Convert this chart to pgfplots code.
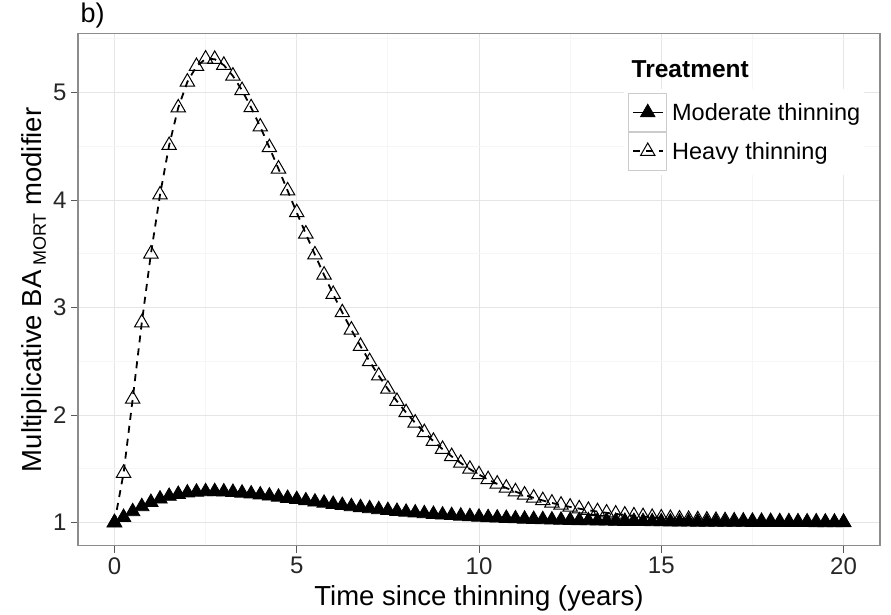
\documentclass[border=0pt]{standalone}
\usepackage{pgfplots}
\pgfplotsset{compat=1.18}
\usepackage{fontspec}
\setmainfont{Liberation Sans}
\definecolor{majgrid}{gray}{0.90}
\definecolor{mingrid}{gray}{0.965}
\definecolor{panelborder}{gray}{0.55}
\definecolor{keyborder}{gray}{0.80}
\pgfplotstableread{
t y
0 1.000
0.25 1.050
0.5 1.103
0.75 1.150
1.0 1.189
1.25 1.221
1.5 1.246
1.75 1.264
2.0 1.277
2.25 1.285
2.5 1.289
2.75 1.290
3.0 1.287
3.25 1.283
3.5 1.276
3.75 1.268
4.0 1.259
4.25 1.249
4.5 1.238
4.75 1.227
5.0 1.216
5.25 1.204
5.5 1.193
5.75 1.182
6.0 1.171
6.25 1.161
6.5 1.150
6.75 1.141
7.0 1.131
7.25 1.122
7.5 1.114
7.75 1.106
8.0 1.098
8.25 1.091
8.5 1.084
8.75 1.078
9.0 1.072
9.25 1.067
9.5 1.062
9.75 1.057
10.0 1.052
10.25 1.048
10.5 1.044
10.75 1.041
11.0 1.037
11.25 1.034
11.5 1.031
11.75 1.029
12.0 1.026
12.25 1.024
12.5 1.022
12.75 1.020
13.0 1.019
13.25 1.017
13.5 1.016
13.75 1.014
14.0 1.013
14.25 1.012
14.5 1.011
14.75 1.010
15.0 1.009
15.25 1.008
15.5 1.007
15.75 1.007
16.0 1.006
16.25 1.005
16.5 1.005
16.75 1.004
17.0 1.004
17.25 1.004
17.5 1.003
17.75 1.003
18.0 1.003
18.25 1.002
18.5 1.002
18.75 1.002
19.0 1.002
19.25 1.001
19.5 1.001
19.75 1.001
20.0 1.001
}\moderate
\pgfplotstableread{
t y
0 1.000
0.25 1.460
0.5 2.150
0.75 2.860
1.0 3.500
1.25 4.050
1.5 4.510
1.75 4.860
2.0 5.100
2.25 5.245
2.5 5.314
2.75 5.311
3.0 5.256
3.25 5.155
3.5 5.021
3.75 4.861
4.0 4.682
4.25 4.490
4.5 4.291
4.75 4.088
5.0 3.885
5.25 3.686
5.5 3.492
5.75 3.304
6.0 3.125
6.25 2.954
6.5 2.793
6.75 2.641
7.0 2.499
7.25 2.366
7.5 2.243
7.75 2.129
8.0 2.024
8.25 1.928
8.5 1.839
8.75 1.758
9.0 1.683
9.25 1.616
9.5 1.554
9.75 1.498
10.0 1.447
10.25 1.401
10.5 1.360
10.75 1.322
11.0 1.288
11.25 1.258
11.5 1.230
11.75 1.206
12.0 1.183
12.25 1.164
12.5 1.146
12.75 1.130
13.0 1.115
13.25 1.103
13.5 1.091
13.75 1.081
14.0 1.072
14.25 1.064
14.5 1.057
14.75 1.050
15.0 1.045
15.25 1.040
15.5 1.035
15.75 1.031
16.0 1.028
16.25 1.025
16.5 1.022
16.75 1.019
17.0 1.017
17.25 1.015
17.5 1.013
17.75 1.012
18.0 1.011
18.25 1.009
18.5 1.008
18.75 1.007
19.0 1.006
19.25 1.006
19.5 1.005
19.75 1.004
20.0 1.004
}\heavy
\begin{document}
\begin{tikzpicture}
\begin{axis}[
  scale only axis, width=802pt, height=512pt,
  xmin=-1, xmax=21, ymin=0.7835, ymax=5.5465,
  xtick={0,5,10,15,20}, ytick={1,2,3,4,5},
  minor xtick={2.5,7.5,12.5,17.5}, minor ytick={1.5,2.5,3.5,4.5,5.5},
  grid=both,
  major grid style={color=majgrid, line width=1pt},
  minor grid style={color=mingrid, line width=0.8pt},
  minor tick length=0pt, major tick length=7pt, tick align=outside, tick pos=left,
  tick style={color=black!65, line width=1pt},
  axis line style={color=panelborder, line width=1.2pt},
  /pgf/number format/assume math mode=true,
  ticklabel style={font=\fontsize{24}{24}\selectfont, text=black!85},
  xticklabel style={yshift=-1pt},
  yticklabel style={xshift=-1pt},
  label style={font=\fontsize{27.5}{27.5}\selectfont},
  xlabel={Time since thinning (years)},
  xlabel style={at={(axis description cs:0.5,0)}, anchor=base, yshift=-60pt},
  ylabel={Multiplicative BA\,\raisebox{-4pt}{\fontsize{18}{18}\selectfont MORT} modifier},
  ylabel style={at={(axis description cs:0,0.5)}, anchor=base, yshift=36pt},
  legend style={at={(rel axis cs:0.681,0.8926)}, anchor=north west, draw=none, fill=white,
    inner sep=4pt, row sep=0pt, column sep=5pt,
    font=\fontsize{23.5}{23.5}\selectfont, nodes={inner sep=0pt}},
  legend cell align=left,
  legend image code/.code={
    \draw[solid, draw=keyborder, line width=0.8pt, fill=white] (0pt,-19pt) rectangle (38pt,19pt);
    \draw[mark repeat=2, mark phase=2] plot coordinates {(4pt,0pt) (19pt,0pt) (34pt,0pt)};
  },
  clip=false,
]
\addplot[black, line width=1.6pt, mark=triangle*, mark size=8.3pt,
  mark options={solid, fill=black, line width=0.8pt}] table[x=t, y=y] {\moderate};
\addlegendentry{Moderate thinning}
\addplot[black, line width=1.8pt, dash pattern=on 7pt off 6pt, mark=triangle, mark size=8.3pt,
  mark options={solid, line width=1pt}] table[x=t, y=y] {\heavy};
\addlegendentry{Heavy thinning}
\node[anchor=base west, font=\bfseries\fontsize{24.5}{24.5}\selectfont] at (rel axis cs:0.686,0.915) {Treatment};
\node[anchor=base west, font=\fontsize{27}{27}\selectfont] at (rel axis cs:0,1) [xshift=-1pt, yshift=11pt] {b)};
\end{axis}
\path ([shift={(-78pt,-68pt)}]current axis.south west) rectangle ([shift={(11pt,33pt)}]current axis.north east);
\end{tikzpicture}
\end{document}
